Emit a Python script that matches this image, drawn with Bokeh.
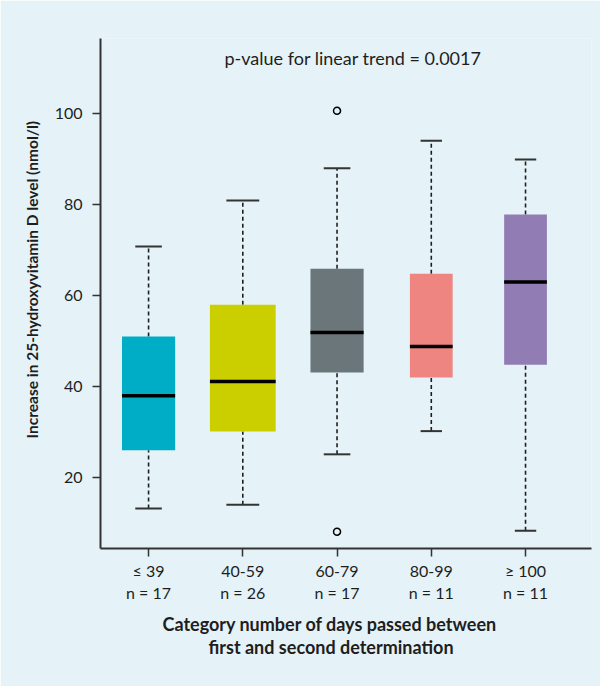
import math
from bokeh.plotting import figure
from bokeh.models import Label, FixedTicker, Range1d, ColumnDataSource, Title
from bokeh.embed import file_html
from bokeh.resources import INLINE

# ---- data ----
categories = ["\u2264 39", "40-59", "60-79", "80-99", "\u2265 100"]
n_obs = [17, 26, 17, 11, 11]
q1 = [26.0, 30.1, 43.1, 42.0, 44.8]
median = [38.0, 41.1, 51.9, 48.8, 63.0]
q3 = [51.0, 58.0, 65.9, 64.8, 77.8]
whisker_low = [13.2, 14.0, 25.1, 30.2, 8.3]
whisker_high = [70.8, 80.9, 88.0, 94.0, 89.9]
outlier_cat = [3, 3]
outlier_val = [100.6, 8.1]
box_colors = ["#00adc7", "#cbcf00", "#6b767b", "#ee8580", "#917db3"]
y_ticks = [20, 40, 60, 80, 100]

title_text = "p-value for linear trend = 0.0017"
ylabel = "Increase in 25-hydroxyvitamin D level (nmol/l)"
xlabel1 = "Category number of days passed between"
xlabel2 = "first and second determination"

BG = "#e5f2f7"
FONT = "Lato"
INK = "#1e1e1e"

W, H = 600, 686
p = figure(width=W, height=H, output_backend="svg", toolbar_location=None,
           x_range=Range1d(0.49, 5.70), y_range=Range1d(4.4, 116.5),
           min_border_left=100, min_border_right=9, min_border_top=38,
           min_border_bottom=138)
p.background_fill_color = BG
p.border_fill_color = BG
p.outline_line_color = None
p.grid.visible = False

# varwidth boxes (width proportional to sqrt(n))
xs = list(range(1, len(categories) + 1))
maxw = 0.564 / math.sqrt(17)
widths = [maxw * math.sqrt(n) for n in n_obs]

src = ColumnDataSource(dict(
    x=xs, w=widths, q1=q1, q3=q3, med=median, lo=whisker_low, hi=whisker_high,
    color=box_colors,
    xl=[x - w / 2 for x, w in zip(xs, widths)],
    xr=[x + w / 2 for x, w in zip(xs, widths)],
    cl=[x - w / 4 for x, w in zip(xs, widths)],
    cr=[x + w / 4 for x, w in zip(xs, widths)],
))

# whiskers
p.segment(x0="x", x1="x", y0="q3", y1="hi", source=src, line_color=INK,
          line_width=1.6, line_dash="4 3")
p.segment(x0="x", x1="x", y0="lo", y1="q1", source=src, line_color=INK,
          line_width=1.6, line_dash="4 3")
# caps
p.segment(x0="cl", x1="cr", y0="hi", y1="hi", source=src, line_color="#333333", line_width=2)
p.segment(x0="cl", x1="cr", y0="lo", y1="lo", source=src, line_color="#333333", line_width=2)
# boxes
p.vbar(x="x", width="w", bottom="q1", top="q3", source=src, fill_color="color",
       line_color=None)
# medians
p.segment(x0="xl", x1="xr", y0="med", y1="med", source=src, line_color="black", line_width=3.5)
# outliers
p.scatter(outlier_cat, outlier_val, marker="circle", size=7, fill_color=None,
          line_color="black", line_width=1.5)

# axes
for ax in (p.xaxis[0], p.yaxis[0]):
    ax.axis_line_color = "#333333"
    ax.axis_line_width = 2
    ax.major_tick_line_color = "#333333"
    ax.major_tick_line_width = 1.5
    ax.major_tick_out = 8
    ax.major_tick_in = 0
    ax.minor_tick_line_color = None
    ax.major_label_text_font = FONT
    ax.major_label_text_font_size = "16px"
    ax.major_label_text_color = INK

p.yaxis.ticker = FixedTicker(ticks=y_ticks)
p.yaxis.major_label_standoff = 10
p.xaxis.ticker = FixedTicker(ticks=xs)
p.xaxis.major_label_overrides = {x: f"{c}\nn = {n}" for x, c, n in zip(xs, categories, n_obs)}
p.xaxis.major_label_standoff = 4

# title inside plot
p.add_layout(Label(x=3.17, y=112.3, text=title_text, text_font=FONT,
                   text_font_size="18px", text_color=INK, text_align="center",
                   text_baseline="middle"))

# axis titles as side-panel titles
p.add_layout(Title(text=ylabel, align="left", offset=110, standoff=22,
                   text_font=FONT, text_font_size="15.5px", text_font_style="bold",
                   text_color=INK), "left")
p.add_layout(Title(text=xlabel1, align="left", offset=62, standoff=10,
                   text_font=FONT, text_font_size="18px", text_font_style="bold",
                   text_color=INK), "below")
p.add_layout(Title(text=xlabel2, align="left", offset=108, standoff=-12,
                   text_font=FONT, text_font_size="18px", text_font_style="bold",
                   text_color=INK), "below")

open("out.html", "w").write(file_html(p, INLINE))
